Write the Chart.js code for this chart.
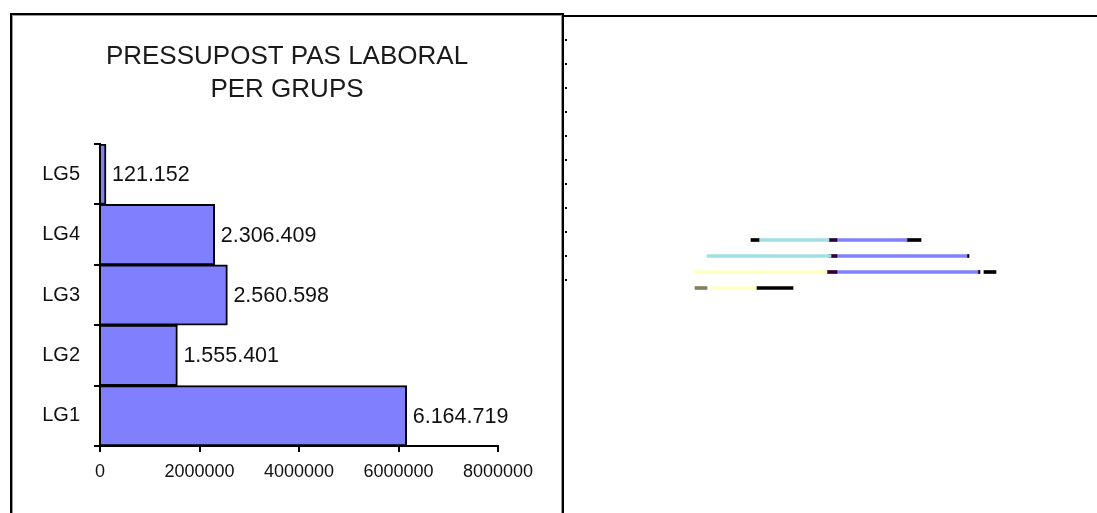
<!DOCTYPE html>
<html>
<head>
<meta charset="utf-8">
<script src="https://cdn.jsdelivr.net/npm/chart.js@4/dist/chart.umd.min.js"></script>
<style>
  html, body { margin: 0; padding: 0; background: #fff; }
  body { width: 1097px; height: 513px; position: relative; overflow: hidden; font-family: 'Liberation Sans', Arial, sans-serif; }
  #caixa {
    position: absolute; left: 10px; top: 13px; width: 550px; height: 520px;
    border-left: 2px solid #000; border-top: 2px solid #000; border-right: 2px solid #000;
    box-shadow: inset 1px 1px 0 #999, inset -1px 0 0 #999;
  }
  #linia-dreta { position: absolute; left: 564px; top: 15px; width: 533px; height: 2px; background: #000; }
  #vora-dreta { position: absolute; left: 565px; top: 17px; width: 2px; height: 280px;
    background: repeating-linear-gradient(to bottom, transparent 0 22px, #000 22px 24px); }
  #c-grups { position: absolute; left: 12px; top: 15px; }
  #c-piramide { position: absolute; left: 693px; top: 232px; }
</style>
</head>
<body>
<div id="caixa"></div>
<div id="linia-dreta"></div>
<div id="vora-dreta"></div>
<canvas id="c-grups" width="550" height="498"></canvas>
<canvas id="c-piramide" width="340" height="64"></canvas>
<script>
// Pressupost PAS laboral per grups
const grups = ['LG1', 'LG2', 'LG3', 'LG4', 'LG5'];
const pressupost = [6164719, 1555401, 2560598, 2306409, 121152];
const ticksX = [0, 2000000, 4000000, 6000000, 8000000];
const titol = ['PRESSUPOST PAS LABORAL', 'PER GRUPS'];

// Fragments de la gràfica de la dreta (piràmide), en unitats relatives al centre
const files = ['a', 'b', 'c', 'd'];
const pirNegre = [[-82, -74], null, [151, 163], [-76, -40]];
const pirCia = [[-74, -4], [-126, -2], null, null];
const pirGroc = [null, null, [-139, -6], [-122, -76]];
const pirOliva = [null, null, null, [-138, -126]];
const pirCentre = [[-4, 4], [-4, 4], [-6, 4], null];
const pirBlau = [[4, 74], [4, 134], [4, 145], null];
const pirNegre2 = [[74, 88], [134, 136], [145, 147], null];

const FONT = '"Liberation Sans", Arial, sans-serif';

function formatPunts(v) {
    return String(v).replace(/\B(?=(\d{3})+(?!\d))/g, '.');
}

// Títol centrat sobre tot el requadre (no només l'àrea del gràfic)
const titolCentrat = {
    id: 'titolCentrat',
    afterDraw(chart) {
        const ctx = chart.ctx;
        ctx.save();
        ctx.font = '26px ' + FONT;
        ctx.fillStyle = '#1a1a1a';
        ctx.textAlign = 'center';
        ctx.textBaseline = 'middle';
        titol.forEach((linia, i) => {
            ctx.fillText(linia, chart.width / 2, 42 + i * 33);
        });
        ctx.restore();
    }
};

// Etiquetes de valor al final de cada barra
const etiquetesBarres = {
    id: 'etiquetesBarres',
    afterDatasetsDraw(chart) {
        const ctx = chart.ctx;
        const meta = chart.getDatasetMeta(0);
        ctx.save();
        ctx.font = '21.5px ' + FONT;
        ctx.fillStyle = '#111';
        ctx.textAlign = 'left';
        ctx.textBaseline = 'middle';
        meta.data.forEach((bar, i) => {
            ctx.fillText(formatPunts(pressupost[i]), bar.x + 6, bar.y + 1);
        });
        ctx.restore();
    }
};

new Chart(document.getElementById('c-grups'), {
    type: 'bar',
    data: {
        labels: grups,
        datasets: [{
            data: pressupost,
            backgroundColor: '#8080ff',
            borderColor: '#000',
            borderWidth: 2,
            barPercentage: 1,
            categoryPercentage: 1
        }]
    },
    options: {
        indexAxis: 'y',
        responsive: false,
        animation: false,
        layout: { padding: { left: 0, right: 64, top: 129, bottom: 0 } },
        plugins: {
            legend: { display: false },
            tooltip: { enabled: false },
            title: { display: false }
        },
        scales: {
            x: {
                type: 'linear',
                min: 0,
                max: 8000000,
                afterBuildTicks: (scale) => { scale.ticks = ticksX.map(v => ({ value: v })); },
                afterFit: (scale) => { scale.height = 67; },
                grid: { drawOnChartArea: false, drawTicks: true, tickLength: 6, color: '#000', lineWidth: 2 },
                border: { display: true, color: '#000', width: 2 },
                ticks: {
                    color: '#111',
                    padding: 9,
                    maxRotation: 0,
                    autoSkip: false,
                    font: { family: FONT, size: 18 },
                    callback: (v) => String(v)
                }
            },
            y: {
                reverse: true,
                afterFit: (scale) => { scale.width = 88; },
                grid: { drawOnChartArea: false, drawTicks: true, tickLength: 6, color: '#000', lineWidth: 2, offset: true },
                border: { display: true, color: '#000', width: 2 },
                ticks: {
                    color: '#111',
                    padding: 14,
                    font: { family: FONT, size: 20 }
                }
            }
        }
    },
    plugins: [titolCentrat, etiquetesBarres]
});

function capa(data, color) {
    return { data: data, backgroundColor: color, borderWidth: 0, barThickness: 3, grouped: false };
}

new Chart(document.getElementById('c-piramide'), {
    type: 'bar',
    data: {
        labels: files,
        datasets: [
            capa(pirNegre, '#000'),
            capa(pirCia, '#a0e0e0'),
            capa(pirGroc, '#ffffc0'),
            capa(pirOliva, '#808060'),
            capa(pirCentre, '#300030'),
            capa(pirBlau, '#8080ff'),
            capa(pirNegre2, '#000')
        ]
    },
    options: {
        indexAxis: 'y',
        responsive: false,
        animation: false,
        layout: { padding: 0 },
        plugins: { legend: { display: false }, tooltip: { enabled: false }, title: { display: false } },
        scales: {
            x: { type: 'linear', min: -140, max: 200, display: false },
            y: { display: false }
        }
    }
});
</script>
</body>
</html>
